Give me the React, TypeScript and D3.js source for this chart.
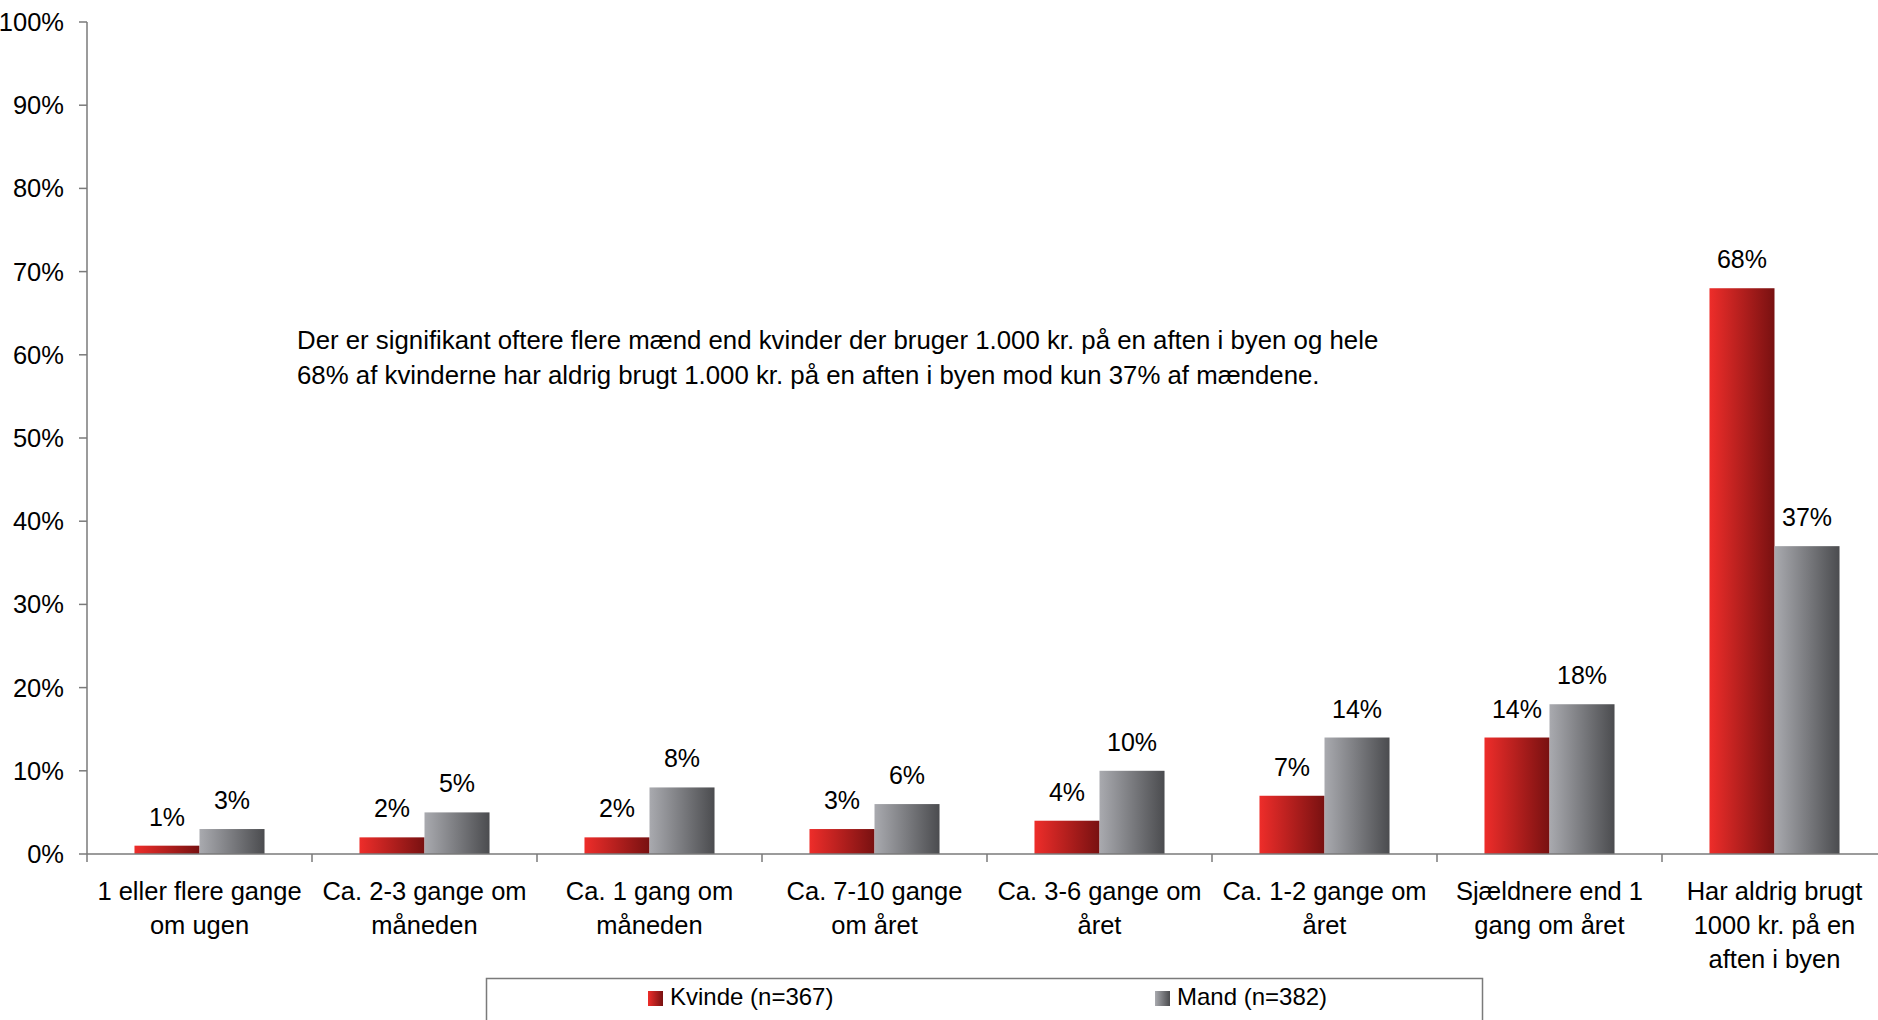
import React from "react";
import * as d3 from "d3";

const categories: string[][] = [
  ["1 eller flere gange", "om ugen"],
  ["Ca. 2-3 gange om", "måneden"],
  ["Ca. 1 gang om", "måneden"],
  ["Ca. 7-10 gange", "om året"],
  ["Ca. 3-6 gange om", "året"],
  ["Ca. 1-2 gange om", "året"],
  ["Sjældnere end 1", "gang om året"],
  ["Har aldrig brugt", "1000 kr. på en", "aften i byen"],
];
const kvinde = [1, 2, 2, 3, 4, 7, 14, 68];
const mand = [3, 5, 8, 6, 10, 14, 18, 37];
const yTicks = [0, 10, 20, 30, 40, 50, 60, 70, 80, 90, 100];
const seriesNames = ["Kvinde (n=367)", "Mand (n=382)"];
const note = [
  "Der er signifikant oftere flere mænd end kvinder der bruger 1.000 kr. på en aften i byen og hele",
  "68% af kvinderne har aldrig brugt 1.000 kr. på en aften i byen mod kun 37% af mændene.",
];

const W = 1878;
const H = 1020;
const left = 87;
const right = 87 + 8 * 225;
const top = 22;
const bottom = 854;
const FONT = "'Liberation Sans', Arial, sans-serif";

export default function App() {
  const x = d3
    .scaleBand<number>()
    .domain(d3.range(categories.length))
    .range([left, right]);
  const y = d3.scaleLinear().domain([0, 100]).range([bottom, top]);
  const groupW = x.bandwidth() * 0.578;
  const barW = groupW / 2;
  const series = [
    { vals: kvinde, grad: "url(#gRed)" },
    { vals: mand, grad: "url(#gGray)" },
  ];

  return (
    <svg
      width={W}
      height={H}
      style={{ position: "absolute", left: 0, top: 0, background: "#fff" }}
      fontFamily={FONT}
    >
      <defs>
        <linearGradient id="gRed" x1="0" x2="1" y1="0" y2="0">
          <stop offset="0%" stopColor="#ee2d2a" />
          <stop offset="100%" stopColor="#781111" />
        </linearGradient>
        <linearGradient id="gGray" x1="0" x2="1" y1="0" y2="0">
          <stop offset="0%" stopColor="#a9aaaf" />
          <stop offset="100%" stopColor="#4b4c4f" />
        </linearGradient>
      </defs>

      {/* y axis */}
      <line x1={left} x2={left} y1={top} y2={bottom} stroke="#7a7a7a" strokeWidth={1.5} />
      {yTicks.map((t) => (
        <g key={t}>
          <line x1={left - 8} x2={left} y1={y(t)} y2={y(t)} stroke="#7a7a7a" strokeWidth={1.5} />
          <text x={64} y={y(t) + 9} textAnchor="end" fontSize={25.5} fill="#000">
            {t}%
          </text>
        </g>
      ))}

      {/* bars */}
      {series.map((s, si) =>
        s.vals.map((v, i) => {
          const bx = x(i)! + (x.bandwidth() - groupW) / 2 + si * barW;
          return (
            <g key={`${si}-${i}`}>
              <rect x={bx} y={y(v)} width={barW} height={bottom - y(v)} fill={s.grad} />
              <text
                x={bx + barW / 2}
                y={y(v) - 20}
                textAnchor="middle"
                fontSize={25}
                fill="#000"
              >
                {v}%
              </text>
            </g>
          );
        })
      )}

      {/* x axis */}
      <line x1={left} x2={W} y1={bottom} y2={bottom} stroke="#7a7a7a" strokeWidth={1.5} />
      {d3.range(categories.length + 1).map((i) => {
        const xx = i < categories.length ? x(i)! : right;
        return (
          <line key={i} x1={xx} x2={xx} y1={bottom} y2={bottom + 8} stroke="#7a7a7a" strokeWidth={1.5} />
        );
      })}
      {categories.map((lines, i) => (
        <text key={i} textAnchor="middle" fontSize={25.5} fill="#000">
          {lines.map((l, j) => (
            <tspan key={j} x={x(i)! + x.bandwidth() / 2} y={900 + j * 34}>
              {l}
            </tspan>
          ))}
        </text>
      ))}

      {/* annotation */}
      {note.map((l, j) => (
        <text key={j} x={297} y={349 + j * 35} fontSize={25.8} fill="#000">
          {l}
        </text>
      ))}

      {/* legend */}
      <rect x={486.5} y={978.5} width={996} height={60} fill="#fff" stroke="#7a7a7a" strokeWidth={1.5} />
      {seriesNames.map((n, i) => {
        const lx = i === 0 ? 648 : 1155;
        return (
          <g key={n}>
            <rect x={lx} y={991} width={15} height={15} fill={series[i].grad} />
            <text x={lx + 22} y={1005} fontSize={24} fill="#000">
              {n}
            </text>
          </g>
        );
      })}
    </svg>
  );
}
